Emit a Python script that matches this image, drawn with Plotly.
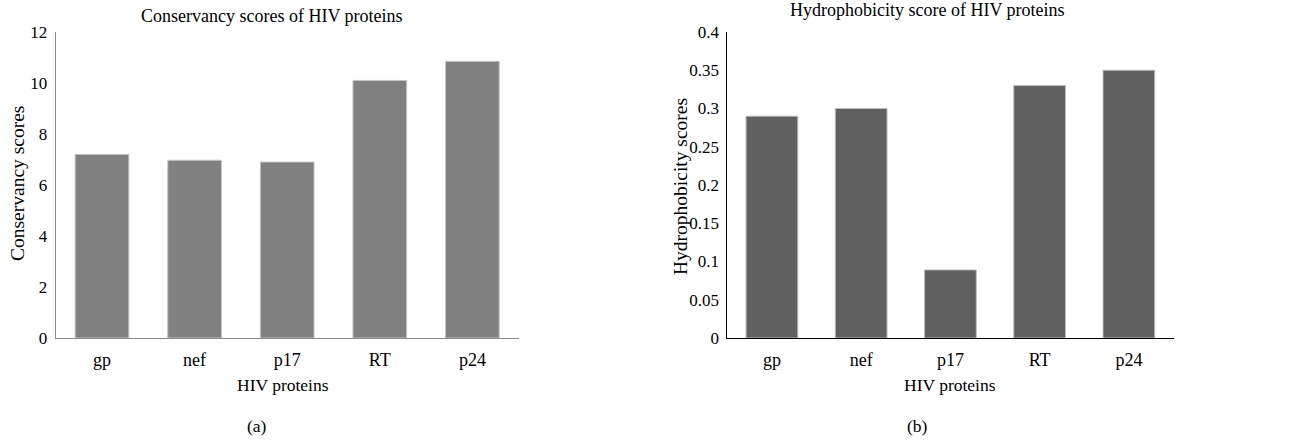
import plotly.graph_objects as go

proteins = ["gp", "nef", "p17", "RT", "p24"]
conservancy = [7.2, 6.97, 6.9, 10.1, 10.85]
hydrophobicity = [0.29, 0.30, 0.089, 0.33, 0.35]
cons_ticks = [0, 2, 4, 6, 8, 10, 12]
hyd_ticks = [0, 0.05, 0.1, 0.15, 0.2, 0.25, 0.3, 0.35, 0.4]
hyd_tick_text = ["0", "0.05", "0.1", "0.15", "0.2", "0.25", "0.3", "0.35", "0.4"]

W, H = 1298, 440
FONT = "Liberation Serif"

fig = go.Figure()
fig.add_trace(go.Bar(x=proteins, y=conservancy, xaxis="x", yaxis="y",
                     marker=dict(color="#808080", line=dict(color="#c4c4c4", width=1)),
                     showlegend=False))
fig.add_trace(go.Bar(x=proteins, y=hydrophobicity, xaxis="x2", yaxis="y2",
                     marker=dict(color="#606060", line=dict(color="#bdbdbd", width=1)),
                     showlegend=False))

yd = [1 - 338 / H, 1 - 32 / H]
x1d = [55.7 / W, 518.7 / W]
x2d = [727.3 / W, 1173.5 / W]

ytickfont = dict(family=FONT, size=17, color="#000")
xtickfont = dict(family=FONT, size=18, color="#000")
common = dict(showgrid=False, ticks="", automargin=False, zeroline=False)
fig.update_layout(
    template="none",
    width=W, height=H,
    margin=dict(l=0, r=0, t=0, b=0, autoexpand=False),
    paper_bgcolor="white", plot_bgcolor="white",
    bargap=0.42,
    font=dict(family=FONT, size=17, color="#000"),
    xaxis=dict(domain=x1d, anchor="y", showline=True, linecolor="#8a8a8a", linewidth=1,
               ticklabelstandoff=5, tickfont=xtickfont, **common),
    yaxis=dict(domain=yd, anchor="x", range=[0, 12], tickvals=cons_ticks, showline=True,
               linecolor="#8a8a8a", linewidth=1, ticklabelstandoff=4, tickfont=ytickfont, **common),
    xaxis2=dict(domain=x2d, anchor="y2", showline=True, linecolor="#000", linewidth=1,
                ticklabelstandoff=5, tickfont=xtickfont, **common),
    yaxis2=dict(domain=yd, anchor="x2", range=[0, 0.4], tickvals=hyd_ticks, ticktext=hyd_tick_text,
                showline=True, linecolor="#000", linewidth=1, ticklabelstandoff=4,
                tickfont=ytickfont, **common),
)

def ann(text, x, y, size=17.5, angle=0):
    fig.add_annotation(text=text, x=x / W, y=1 - y / H, xref="paper", yref="paper",
                       showarrow=False, font=dict(family=FONT, size=size, color="#000"),
                       textangle=angle, xanchor="center", yanchor="middle")

ann("Conservancy scores of HIV proteins", 272, 16, size=18)
ann("Hydrophobicity score of HIV proteins", 927, 10, size=18)
ann("HIV proteins", 283, 385)
ann("HIV proteins", 950, 385)
ann("Conservancy scores", 17, 184, size=19.5, angle=-90)
ann("Hydrophobicity scores", 680, 187, size=19.5, angle=-90)
ann("(a)", 257, 426)
ann("(b)", 917, 426)

fig.write_html("out.html")
